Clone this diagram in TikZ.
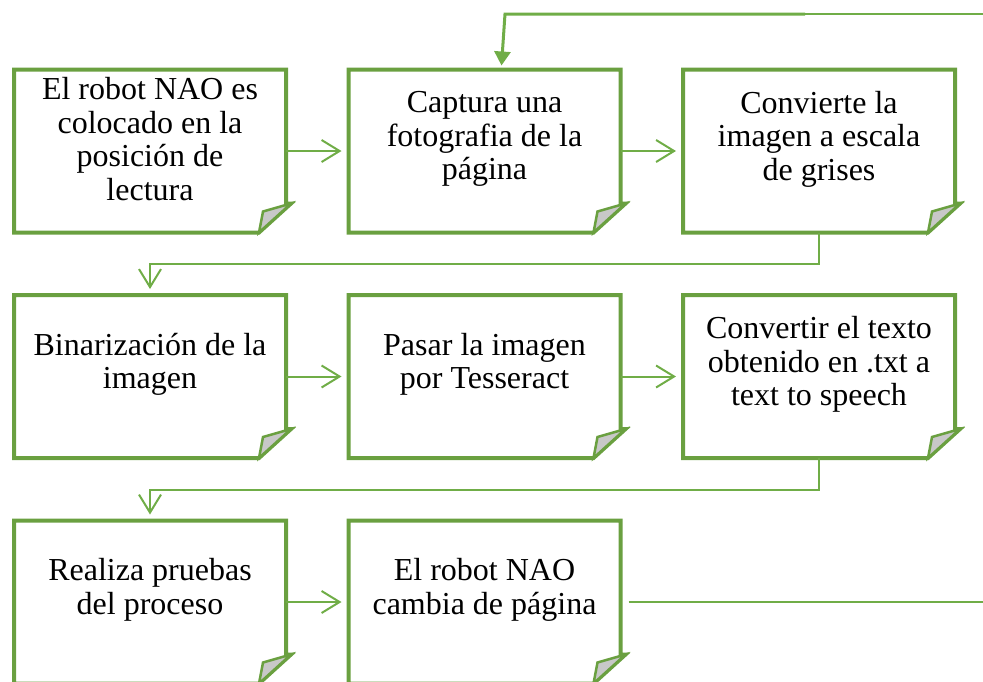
\documentclass[tikz,border=0pt]{standalone}
\usepackage{fontspec}
\setmainfont{Liberation Serif}
\usetikzlibrary{arrows.meta, positioning, calc}
\definecolor{boxgreen}{RGB}{106,160,64}
\definecolor{linegreen}{RGB}{112,173,71}
\definecolor{flapgray}{RGB}{200,200,200}

\begin{document}
\begin{tikzpicture}[%
    x=1pt, y=-1pt,                      % one unit per pixel, y downwards
    >={Straight Barb[length=18pt,width=22pt]},
    node distance=225.5pt and 334.5pt,  % rows and columns of the boxes
    ]
\useasboundingbox (0,0) rectangle (983,681);

\def\foldbox#1{%
  \draw[boxgreen, line width=4pt] (#1.north west) -- (#1.north east)
    -- ([yshift=29pt]#1.south east) -- ++(5,0) -- ([xshift=-27pt]#1.south east)
    -- (#1.south west) -- cycle;
  \filldraw[fill=flapgray, draw=boxgreen, line width=2.5pt]
    ([xshift=5pt,yshift=29pt]#1.south east) -- ([xshift=-23pt,yshift=21pt]#1.south east)
    -- ([xshift=-27pt]#1.south east) -- cycle;
}

\tikzset{
  base/.style={on grid, inner sep=0pt, outer sep=0pt, minimum width=272pt, minimum height=163pt},
  txt/.style={align=center, font=\fontsize{32}{33.5}\selectfont},
  flow/.style={draw=linegreen, line width=2pt, ->},
  exitline/.style={draw=linegreen, line width=1.5pt}
  };

% FIRST row
\node[base] (colocar) at (150,151) {};
\node[base, right=of colocar] (captura) {};
\node[base, right=of captura] (grises) {};

% SECOND row
\node[base, below=of colocar] (binar) {};
\node[base, right=of binar] (tesseract) {};
\node[base, right=of tesseract] (speech) {};

% THIRD row
\node[base, below=of binar] (pruebas) {};
\node[base, right=of pruebas] (cambia) {};

\foreach \b in {colocar, captura, grises, binar, tesseract, speech, pruebas, cambia}
  {\foldbox{\b}}

% Texts
\node[txt] (colocarT) at ([yshift=12pt]colocar.center) {El robot NAO es\\ colocado en la\\ posición de\\ lectura};
\node[txt] (capturaT) at ([yshift=12pt]captura.center) {Captura una\\ fotografia de la\\ página};
\node[txt] (grisesT) at ([yshift=12pt]grises.center) {Convierte la\\ imagen a escala\\ de grises};
\node[txt] (binarT) at ([yshift=12pt]binar.center) {Binarización de la\\ imagen};
\node[txt] (tesseractT) at ([yshift=12pt]tesseract.center) {Pasar la imagen\\ por Tesseract};
\node[txt] (speechT) at ([yshift=12pt]speech.center) {Convertir el texto\\ obtenido en .txt a\\ text to speech};
\node[txt] (pruebasT) at ([yshift=12pt]pruebas.center) {Realiza pruebas\\ del proceso};
\node[txt] (cambiaT) at ([yshift=12pt]cambia.center) {El robot NAO\\ cambia de página};

% Loop ends
\coordinate (loopIn) at (983,14);
\coordinate (loopBend) at (805,14);
\coordinate (loopOut) at ([xshift=362pt]cambia.east);

\draw[flow, shorten >=7pt] (colocar.east) -- (captura.west);
\draw[flow, shorten >=7pt] (captura.east) -- (grises.west);
\draw[flow, shorten >=7pt] (binar.east) -- (tesseract.west);
\draw[flow, shorten >=7pt] (tesseract.east) -- (speech.west);
\draw[flow, shorten >=7pt] (pruebas.east) -- (cambia.west);

\draw[flow, shorten >=6pt] (grises.south) -- ++(0,31) -| (binar.north);
\draw[flow, shorten >=6pt] (speech.south) -- ++(0,32) -| (pruebas.north);

\draw[exitline, shorten <=8pt] (cambia.east) -- (loopOut);
\draw[exitline] (loopIn) -- (loopBend);
\draw[linegreen, line width=3pt, -{Triangle[length=14pt,width=16pt]}]
  (loopBend) -- ++(-300,0) -- ([xshift=17pt,yshift=4pt]captura.north);

\end{tikzpicture}
\end{document}
